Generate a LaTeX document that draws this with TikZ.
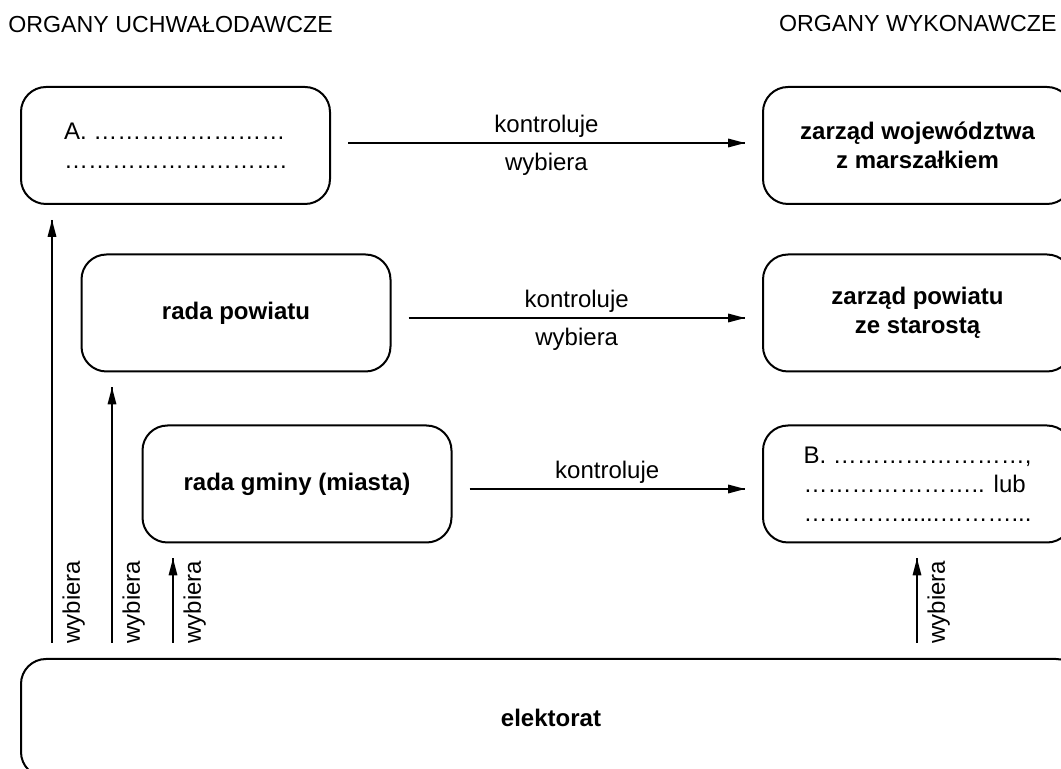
\documentclass[tikz,border=0pt]{standalone}
\usepackage{fontspec}
\setmainfont{Liberation Sans}
\usepackage{tikz}
\usetikzlibrary{arrows.meta,arrows,positioning}

\begin{document}
\fontsize{12}{14.5}\selectfont
\begin{tikzpicture}[x=0.5pt,y=-0.5pt]
\tikzstyle{organ} = [
	shape=rectangle,
	draw=black,
	line width=1pt,
	rounded corners=12.5pt,
	minimum width=154.5pt, %same size for every body
	minimum height=58.5pt,
	inner sep=0pt,
	align=center,
	font=\bfseries
];
\tikzstyle{blank} = [organ, align=left, font=\mdseries];
\tikzstyle{ctrl} = [-voteEdge, line width=1pt, shorten <=8.5pt, shorten >=8pt];
\tikzstyle{vote} = [-voteEdge, line width=1pt, shorten <=7.5pt, shorten >=7pt];
\tikzstyle{upper} = [midway, above, inner sep=2.5pt];
\tikzstyle{lower} = [midway, below, inner sep=4.5pt];
\tikzstyle{side} = [rotate=90, anchor=north west, inner xsep=0pt, inner ysep=5pt];
\pgfarrowsdeclare{voteEdge}{voteEdge}{%
	\arrowsize=1.4pt
	\pgfarrowsleftextend{-6\arrowsize-.5\pgflinewidth}
	\pgfarrowsrightextend{.5\pgflinewidth}
}{%
	\arrowsize=1.4pt
	\pgfsetdash{}{0pt} % do not dash
	\pgfsetroundjoin % fix join
	\pgfsetroundcap % fix cap
	\pgfpathmoveto{\pgfpointorigin}
	\pgfpathlineto{\pgfpoint{-6\arrowsize}{1.6\arrowsize}}
	\pgfpathlineto{\pgfpoint{-6\arrowsize}{-1.6\arrowsize}}
	\pgfpathclose
	\pgfusepathqfill
}

\useasboundingbox (0,0) rectangle (1061,769);

\begin{scope}
	\node[anchor=west,inner sep=0pt,font=\fontsize{11.6}{14}\selectfont](UCH) at (8, 25) {ORGANY UCHWAŁODAWCZE};
	\node[anchor=east,inner sep=0pt,font=\fontsize{11.6}{14}\selectfont](WYK) at (1057, 24) {ORGANY WYKONAWCZE};
	\node[blank](WOJ) at (175.5, 145.5) {A. ……………………\\……………………….};
	\node[organ](POW) at (236, 313) {rada powiatu};
	\node[organ](GMI) at (297, 484) {rada gminy (miasta)};
	\node[organ](ZWOJ) at (917.5, 145.5) {zarząd województwa\\z marszałkiem};
	\node[organ](ZPOW) at (917.5, 313) {zarząd powiatu\\ze starostą};
	\node[blank](ZGMI) at (917.5, 484) {B. ……………………,\\………………….. lub\\…………......………...};
	\node[organ,minimum width=530pt,minimum height=59pt](ELE) at (551, 718) {elektorat};
	\coordinate (V1) at (52, 644);
	\coordinate (V2) at (112, 644);
	\coordinate (V3) at (173, 644);
	\coordinate (V4) at (917, 644);
\end{scope}

\draw [ctrl] ([yshift=1.25pt]WOJ.east) to[] node[upper]{kontroluje} node[lower]{wybiera} ([yshift=1.25pt]ZWOJ.west);
\draw [ctrl] ([yshift=-2.5pt]POW.east) to[] node[upper]{kontroluje} node[lower]{wybiera} ([yshift=-2.5pt]ZPOW.west);
\draw [ctrl] ([yshift=-2.5pt]GMI.east) to[] node[upper]{kontroluje} ([yshift=-2.5pt]ZGMI.west);

\draw [vote] (ELE.north -| V1) to[] (WOJ.south -| V1);
\draw [vote] (ELE.north -| V2) to[] (POW.south -| V2);
\draw [vote] (ELE.north -| V3) to[] (GMI.south -| V3);
\draw [vote] (ELE.north -| V4) to[] (ZGMI.south -| V4);
\node[side] at (V1) {wybiera};
\node[side] at (V2) {wybiera};
\node[side] at (V3) {wybiera};
\node[side] at (V4) {wybiera};

\end{tikzpicture}
\end{document}
